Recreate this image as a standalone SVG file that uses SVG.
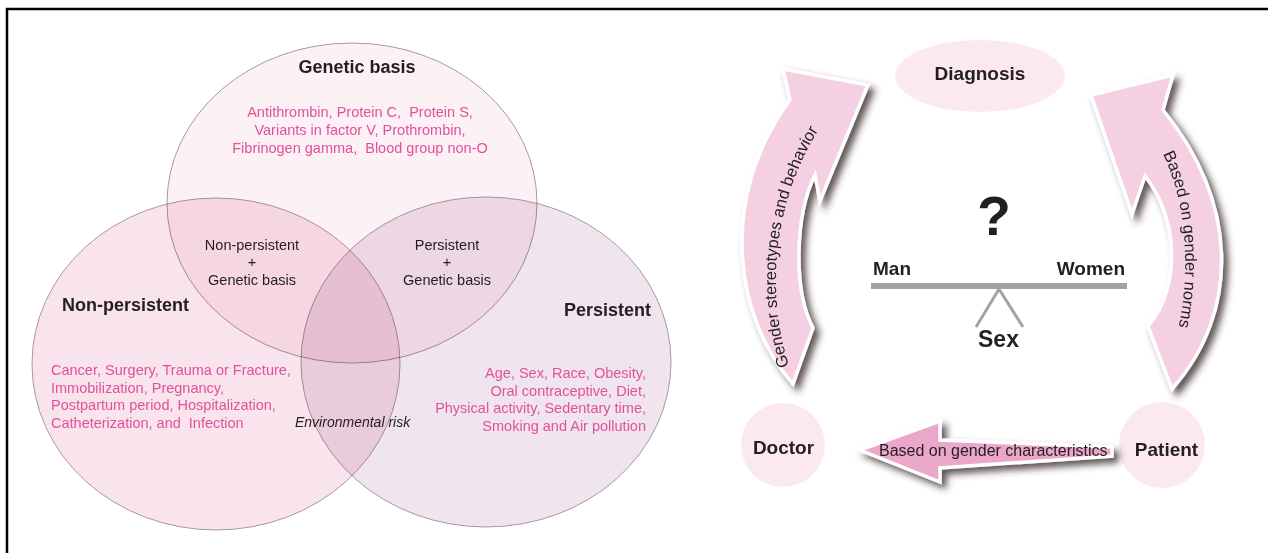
<svg xmlns="http://www.w3.org/2000/svg" width="1268" height="553" viewBox="0 0 1268 553">
<style>
  text { font-family: "Liberation Sans", Arial, sans-serif; fill: #231f20; }
  .pink { fill: #e2519b; font-size: 14.5px; white-space: pre; }
  .small { font-size: 14.5px; }
  .title { font-size: 18px; font-weight: bold; }
  .rt { font-size: 19px; font-weight: bold; }
  .venn { stroke: #a8999c; stroke-width: 1; mix-blend-mode: multiply; }
  .bubble { fill: #fbe9ee; }
  .arrow { fill: #f5d0e2; stroke: #ffffff; stroke-width: 3.5; stroke-linejoin: miter; filter: url(#sh); }
  .arrtxt { font-size: 16.5px; }
</style>
<defs>
  <filter id="sh" x="-40%" y="-40%" width="180%" height="180%">
    <feDropShadow dx="5" dy="5" stdDeviation="3.5" flood-color="#3b2a2a" flood-opacity="0.8"/>
  </filter>
  <path id="tpL" d="M 789 366 C 768 300, 766 200, 832 110"/>
  <path id="tpR" d="M 1163 154 C 1188 205, 1193 285, 1172 352"/>
</defs>
<rect width="1268" height="553" fill="#ffffff"/>
<path d="M7 553 V9 H1268" fill="none" stroke="#000000" stroke-width="2.5"/>

<g id="venn" style="isolation:isolate">
  <g id="genetic-basis">
    <ellipse class="venn" cx="352" cy="203" rx="185" ry="160" fill="#fcf1f5"/>
  </g>
  <g id="non-persistent">
    <ellipse class="venn" cx="216" cy="364" rx="184" ry="166" fill="#f9e3ec"/>
  </g>
  <g id="persistent">
    <ellipse class="venn" cx="486" cy="362" rx="185" ry="165" fill="#f0e4ee"/>
  </g>
</g>

<g id="genetic-basis-text">
  <text class="title" x="357" y="73" text-anchor="middle">Genetic basis</text>
  <text class="pink" x="360" y="117" text-anchor="middle">Antithrombin, Protein C,  Protein S,</text>
  <text class="pink" x="360" y="135" text-anchor="middle">Variants in factor V, Prothrombin,</text>
  <text class="pink" x="360" y="153" text-anchor="middle">Fibrinogen gamma,  Blood group non-O</text>
</g>
<g id="nonpersistent-genetic">
  <text class="small" x="252" y="250" text-anchor="middle">Non-persistent</text>
  <text class="small" x="252" y="267" text-anchor="middle">+</text>
  <text class="small" x="252" y="285" text-anchor="middle">Genetic basis</text>
</g>
<g id="persistent-genetic">
  <text class="small" x="447" y="250" text-anchor="middle">Persistent</text>
  <text class="small" x="447" y="267" text-anchor="middle">+</text>
  <text class="small" x="447" y="285" text-anchor="middle">Genetic basis</text>
</g>
<g id="non-persistent-text">
  <text class="title" x="62" y="311">Non-persistent</text>
  <text class="pink" x="51" y="375">Cancer, Surgery, Trauma or Fracture,</text>
  <text class="pink" x="51" y="392.5">Immobilization, Pregnancy,</text>
  <text class="pink" x="51" y="410">Postpartum period, Hospitalization,</text>
  <text class="pink" x="51" y="427.5">Catheterization, and  Infection</text>
</g>
<g id="persistent-text">
  <text class="title" x="651" y="316" text-anchor="end">Persistent</text>
  <text class="pink" x="646" y="378" text-anchor="end">Age, Sex, Race, Obesity,</text>
  <text class="pink" x="646" y="395.5" text-anchor="end">Oral contraceptive, Diet,</text>
  <text class="pink" x="646" y="413" text-anchor="end">Physical activity, Sedentary time,</text>
  <text class="pink" x="646" y="430.5" text-anchor="end">Smoking and Air pollution</text>
</g>
<g id="environmental-risk">
  <text x="295" y="427" font-size="14px" font-style="italic">Environmental risk</text>
</g>

<g id="diagnosis">
  <ellipse class="bubble" cx="980" cy="76" rx="85" ry="36"/>
  <text class="rt" x="980" y="80" text-anchor="middle" font-size="19.5px">Diagnosis</text>
</g>
<g id="doctor">
  <circle class="bubble" cx="783" cy="445" r="42"/>
  <text class="rt" x="783.5" y="454" text-anchor="middle">Doctor</text>
</g>
<g id="patient">
  <circle class="bubble" cx="1162" cy="445" r="43"/>
  <text class="rt" x="1166.5" y="456" text-anchor="middle">Patient</text>
</g>
<g id="balance">
  <text x="994" y="235" text-anchor="middle" font-size="55px" font-weight="bold">?</text>
  <text class="rt" x="873" y="275">Man</text>
  <text class="rt" x="1125" y="275" text-anchor="end">Women</text>
  <line x1="871" y1="286" x2="1127" y2="286" stroke="#a3a3a3" stroke-width="6"/>
  <polyline points="976,327 999,289 1023,327" fill="none" stroke="#a3a3a3" stroke-width="3"/>
  <text x="998.5" y="347" text-anchor="middle" font-size="23px" font-weight="bold">Sex</text>
</g>

<g id="connectors">
  <g id="arrow-gender-stereotypes">
    <path class="arrow" d="M 793 384 C 736 320, 716 200, 790 100 L 783 69 L 868 85 L 820 201 L 815 175 C 795 215, 793 290, 813 328 Z"/>
    <text class="arrtxt"><textPath href="#tpL">Gender stereotypes and behavior</textPath></text>
  </g>
  <g id="arrow-gender-norms">
    <path class="arrow" d="M 1172 389 C 1242 310, 1237 200, 1163 110 L 1173 75 L 1091 95 L 1132 214 L 1145 176 C 1180 220, 1180 290, 1148 326 Z"/>
    <text class="arrtxt"><textPath href="#tpR">Based on gender norms</textPath></text>
  </g>
  <g id="arrow-gender-characteristics">
    <path class="arrow" d="M 860 450 L 940 421 L 940 440 L 1112 447 L 1112 456 L 940 468 L 940 482 Z" style="fill:#eba7c9"/>
    <text class="arrtxt" x="879" y="456" style="font-size:16px">Based on gender characteristics</text>
  </g>
</g>
</svg>
